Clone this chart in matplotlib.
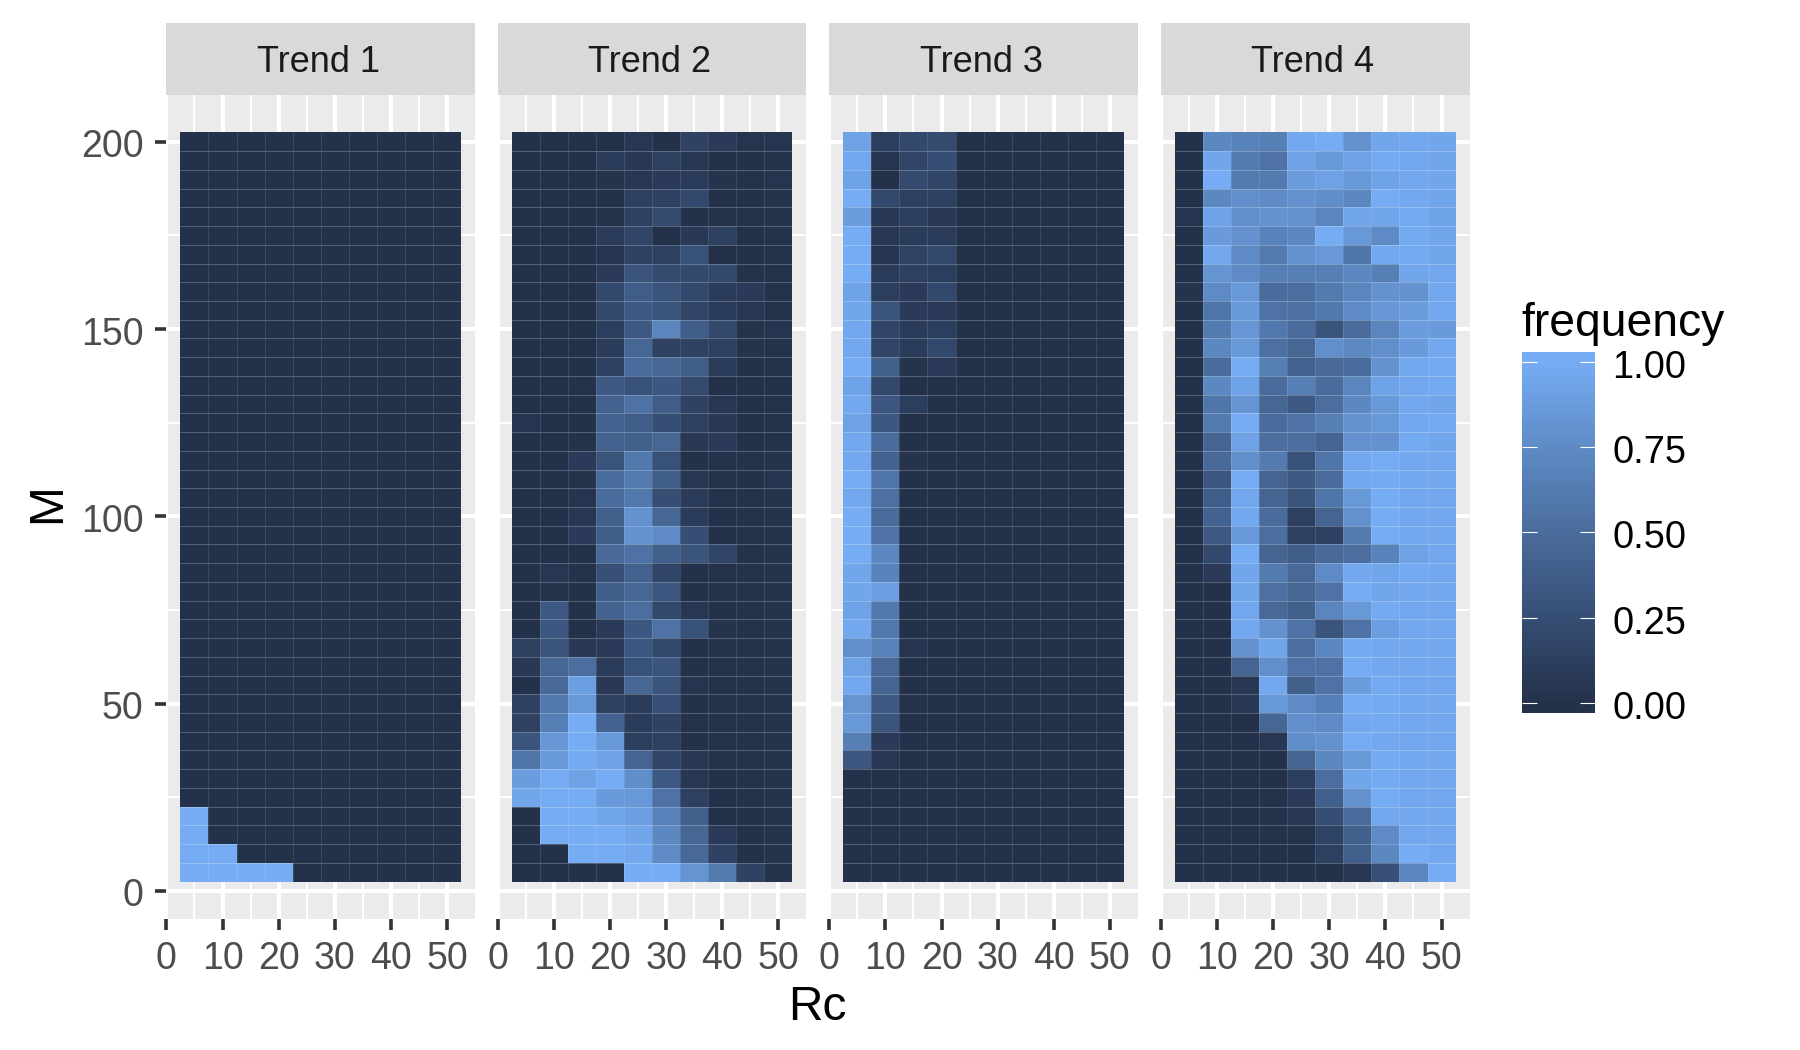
import numpy as np
import matplotlib
matplotlib.use('Agg')
import matplotlib.pyplot as plt
from matplotlib.colors import LinearSegmentedColormap, Normalize
from matplotlib.transforms import ScaledTranslation

plt.rcParams['font.family'] = ['Liberation Sans', 'DejaVu Sans']

trends = ['Trend 1', 'Trend 2', 'Trend 3', 'Trend 4']
rc_values = [5, 10, 15, 20, 25, 30, 35, 40, 45, 50]
m_values = [200, 195, 190, 185, 180, 175, 170, 165, 160, 155, 150, 145, 140, 135, 130, 125, 120, 115, 110, 105,
            100, 95, 90, 85, 80, 75, 70, 65, 60, 55, 50, 45, 40, 35, 30, 25, 20, 15, 10, 5]
x_ticks = [0, 10, 20, 30, 40, 50]
y_ticks = [0, 50, 100, 150, 200]
legend_ticks = [0, 0.25, 0.5, 0.75, 1]

# rows run from M=200 down to M=5
trend1 = [
    [0, 0, 0, 0, 0, 0, 0, 0, 0, 0], [0, 0, 0, 0, 0, 0, 0, 0, 0, 0], [0, 0, 0, 0, 0, 0, 0, 0, 0, 0], [0, 0, 0, 0, 0, 0, 0, 0, 0, 0],
    [0, 0, 0, 0, 0, 0, 0, 0, 0, 0], [0, 0, 0, 0, 0, 0, 0, 0, 0, 0], [0, 0, 0, 0, 0, 0, 0, 0, 0, 0], [0, 0, 0, 0, 0, 0, 0, 0, 0, 0],
    [0, 0, 0, 0, 0, 0, 0, 0, 0, 0], [0, 0, 0, 0, 0, 0, 0, 0, 0, 0], [0, 0, 0, 0, 0, 0, 0, 0, 0, 0], [0, 0, 0, 0, 0, 0, 0, 0, 0, 0],
    [0, 0, 0, 0, 0, 0, 0, 0, 0, 0], [0, 0, 0, 0, 0, 0, 0, 0, 0, 0], [0, 0, 0, 0, 0, 0, 0, 0, 0, 0], [0, 0, 0, 0, 0, 0, 0, 0, 0, 0],
    [0, 0, 0, 0, 0, 0, 0, 0, 0, 0], [0, 0, 0, 0, 0, 0, 0, 0, 0, 0], [0, 0, 0, 0, 0, 0, 0, 0, 0, 0], [0, 0, 0, 0, 0, 0, 0, 0, 0, 0],
    [0, 0, 0, 0, 0, 0, 0, 0, 0, 0], [0, 0, 0, 0, 0, 0, 0, 0, 0, 0], [0, 0, 0, 0, 0, 0, 0, 0, 0, 0], [0, 0, 0, 0, 0, 0, 0, 0, 0, 0],
    [0, 0, 0, 0, 0, 0, 0, 0, 0, 0], [0, 0, 0, 0, 0, 0, 0, 0, 0, 0], [0, 0, 0, 0, 0, 0, 0, 0, 0, 0], [0, 0, 0, 0, 0, 0, 0, 0, 0, 0],
    [0, 0, 0, 0, 0, 0, 0, 0, 0, 0], [0, 0, 0, 0, 0, 0, 0, 0, 0, 0], [0, 0, 0, 0, 0, 0, 0, 0, 0, 0], [0, 0, 0, 0, 0, 0, 0, 0, 0, 0],
    [0, 0, 0, 0, 0, 0, 0, 0, 0, 0], [0, 0, 0, 0, 0, 0, 0, 0, 0, 0], [0, 0, 0, 0, 0, 0, 0, 0, 0, 0], [0, 0, 0, 0, 0, 0, 0, 0, 0, 0],
    [1, 0, 0, 0, 0, 0, 0, 0, 0, 0], [1, 0, 0, 0, 0, 0, 0, 0, 0, 0], [1, 1, 0, 0, 0, 0, 0, 0, 0, 0], [1, 1, 1, 1, 0, 0, 0, 0, 0, 0],
]
trend2 = [
    [0, 0, 0, 0, .05, 0, .15, .08, .03, .03],
    [0, 0, 0, .1, .07, .13, .05, 0, 0, .02],
    [0, 0, 0, .02, .05, .08, .1, .02, .01, .03],
    [0, 0, 0, 0, .13, .15, .2, 0, 0, .02],
    [0, 0, 0, .01, .13, .22, 0, .02, .01, .02],
    [0, 0, 0, .1, .18, 0, .07, .13, 0, .01],
    [0, 0, 0, .03, .15, .13, .28, 0, 0, .01],
    [0, 0, 0, .08, .3, .22, .2, .2, .01, .01],
    [0, 0, 0, .2, .38, .3, .2, .1, .08, .01],
    [0, 0, 0, .2, .35, .3, .17, .1, .05, .01],
    [0, 0, 0, .12, .35, .7, .38, .2, .02, .03],
    [0, 0, 0, .1, .45, .15, .15, .13, .02, .01],
    [0, 0, 0, .13, .5, .45, .38, .1, 0, .01],
    [0, 0, .01, .35, .28, .33, .22, 0, 0, 0],
    [0, 0, 0, .42, .55, .37, .15, .05, 0, .01],
    [.03, 0, 0, .42, .38, .25, .13, .07, 0, .01],
    [0, 0, .01, .42, .4, .45, .07, .08, 0, .01],
    [0, 0, .08, .3, .6, .28, 0, .01, .01, .02],
    [0, 0, .02, .5, .62, .38, .05, .01, 0, .03],
    [0, 0, .03, .5, .6, .25, .1, .01, .01, .02],
    [0, 0, .05, .4, .8, .45, .1, 0, .01, .02],
    [0, 0, .08, .38, .8, .75, .25, 0, .01, .02],
    [0, 0, 0, .48, .55, .4, .3, .17, .01, .02],
    [0, .05, .01, .27, .42, .17, 0, .01, .01, .02],
    [0, .02, 0, .38, .45, .32, 0, .01, .01, .02],
    [0, .35, 0, .42, .52, .2, .05, 0, .01, .02],
    [0, .33, 0, .08, .33, .55, .28, .02, .01, .02],
    [.14, .3, .07, .08, .33, .2, 0, .01, .01, .02],
    [.07, .45, .52, .1, .28, .3, 0, .01, .01, .02],
    [0, .48, .9, .07, .45, .3, .03, .01, .01, .02],
    [.15, .6, .85, .13, .1, .27, 0, .01, .01, .02],
    [.15, .65, 1, .42, .1, .15, .01, .01, .01, .02],
    [.3, .83, 1, .85, .12, .13, 0, .01, .01, .02],
    [.58, .87, .98, .92, .43, .18, .07, .01, .01, .02],
    [.88, 1, .92, 1, .77, .35, .05, 0, .01, .02],
    [.95, 1, 1, .87, .85, .55, .13, 0, .01, .02],
    [0, 1, 1, .95, .9, .67, .4, 0, 0, .02],
    [0, 1, 1, 1, .95, .72, .45, .08, 0, .02],
    [0, 0, 1, 1, .97, .75, .47, .15, 0, .02],
    [0, 0, 0, 0, 1, 1, .82, .62, .15, .02],
]
trend3 = [
    [.92, .12, .2, .22, 0, 0, 0, 0, 0, 0],
    [.97, .03, .18, .25, 0, 0, 0, 0, 0, 0],
    [.93, 0, .22, .18, 0, 0, 0, 0, 0, 0],
    [1, .2, .13, .14, 0, 0, 0, 0, 0, 0],
    [.88, .05, .12, .07, 0, 0, 0, 0, 0, 0],
    [1, .06, .1, .1, 0, 0, 0, 0, 0, 0],
    [1, .04, .16, .2, 0, 0, 0, 0, 0, 0],
    [1, .1, .13, .12, 0, 0, 0, 0, 0, 0],
    [.93, .12, .08, .2, 0, 0, 0, 0, 0, 0],
    [.95, .3, .08, .08, 0, 0, 0, 0, 0, 0],
    [.97, .17, .1, .12, 0, 0, 0, 0, 0, 0],
    [.97, .17, .1, .2, 0, 0, 0, 0, 0, 0],
    [1, .4, .02, .08, 0, 0, 0, 0, 0, 0],
    [.93, .2, 0, 0, 0, 0, 0, 0, 0, 0],
    [.97, .32, .12, 0, 0, 0, 0, 0, 0, 0],
    [.92, .33, 0, 0, 0, 0, 0, 0, 0, 0],
    [.97, .5, 0, 0, 0, 0, 0, 0, 0, 0],
    [.97, .42, .02, 0, 0, 0, 0, 0, 0, 0],
    [1, .58, 0, 0, 0, 0, 0, 0, 0, 0],
    [.97, .53, 0, 0, 0, 0, 0, 0, 0, 0],
    [1, .5, 0, 0, 0, 0, 0, 0, 0, 0],
    [1, .55, 0, 0, 0, 0, 0, 0, 0, 0],
    [1, .72, 0, 0, 0, 0, 0, 0, 0, 0],
    [.95, .68, 0, 0, 0, 0, 0, 0, 0, 0],
    [.95, .9, 0, 0, 0, 0, 0, 0, 0, 0],
    [.93, .6, 0, 0, 0, 0, 0, 0, 0, 0],
    [.97, .6, 0, 0, 0, 0, 0, 0, 0, 0],
    [.78, .68, .03, 0, 0, 0, 0, 0, 0, 0],
    [.92, .47, 0, 0, 0, 0, 0, 0, 0, 0],
    [.97, .43, 0, 0, 0, 0, 0, 0, 0, 0],
    [.82, .35, .01, 0, 0, 0, 0, 0, 0, 0],
    [.85, .3, 0, 0, 0, 0, 0, 0, 0, 0],
    [.65, .08, 0, 0, 0, 0, 0, 0, 0, 0],
    [.32, .05, 0, 0, 0, 0, 0, 0, 0, 0],
    [0, 0, 0, 0, 0, 0, 0, 0, 0, 0],
    [0, 0, 0, 0, 0, 0, 0, 0, 0, 0],
    [0, 0, 0, 0, 0, 0, 0, 0, 0, 0],
    [0, 0, 0, 0, 0, 0, 0, 0, 0, 0],
    [0, 0, 0, 0, 0, 0, 0, 0, 0, 0],
    [0, 0, 0, 0, 0, 0, 0, 0, 0, 0],
]
trend4 = [
    [0, .72, .68, .65, .97, 1, .8, .95, .97, .95],
    [0, .95, .62, .55, .92, .85, .92, .98, .97, .95],
    [0, 1, .62, .62, .88, .92, .85, .93, .97, .95],
    [0, .72, .78, .75, .8, .77, .72, 1, .97, .95],
    [.03, .93, .78, .8, .8, .7, .95, .95, .98, .93],
    [0, .87, .8, .68, .72, 1, .85, .75, .98, .95],
    [0, .97, .75, .62, .8, .85, .58, .97, .98, .95],
    [0, .82, .75, .65, .65, .65, .72, .65, .95, .97],
    [.02, .75, .85, .5, .52, .62, .7, .8, .8, .97],
    [0, .58, .87, .55, .53, .6, .75, .83, .88, .97],
    [0, .62, .83, .6, .5, .3, .5, .7, .88, .87],
    [0, .72, .85, .53, .45, .78, .73, .78, .87, .97],
    [0, .5, 1, .65, .42, .48, .5, .8, .97, .98],
    [0, .72, .93, .5, .65, .5, .7, .93, .97, .98],
    [0, .58, .82, .45, .35, .52, .72, .85, .97, .95],
    [0, .62, 1, .5, .55, .65, .8, .85, .97, .98],
    [0, .43, .92, .52, .52, .43, .8, .8, .98, .95],
    [0, .48, .78, .62, .28, .58, .97, 1, .97, .97],
    [0, .33, .99, .43, .35, .5, .97, .98, .97, .97],
    [0, .38, .97, .43, .3, .58, .85, 1, .97, .97],
    [0, .42, .97, .5, .13, .43, .8, 1, .97, .97],
    [0, .35, .85, .52, .13, .15, .62, 1, .97, .97],
    [0, .2, 1, .43, .38, .47, .52, .68, .92, .97],
    [0, .08, .95, .62, .47, .75, .97, .95, .98, .97],
    [0, 0, .95, .53, .45, .55, 1, .95, .97, .97],
    [0, 0, .97, .47, .4, .7, .85, .98, .97, .97],
    [0, 0, .97, .8, .55, .3, .55, .9, .97, .97],
    [0, 0, .8, .95, .52, .72, .98, .97, .97, .97],
    [0, 0, .43, .78, .55, .55, 1, .97, .97, .97],
    [0, 0, .06, .97, .4, .55, .88, .98, .97, .97],
    [0, 0, .06, .85, .75, .65, 1, .98, .97, .97],
    [0, 0, 0, .45, .78, .75, .97, .98, .97, .97],
    [0, 0, 0, .06, .77, .8, 1, .97, .97, .97],
    [0, 0, 0, 0, .43, .72, .85, .98, .97, .97],
    [0, 0, 0, 0, .12, .52, .95, .98, .97, .97],
    [0, 0, 0, .01, .08, .4, .8, 1, .97, .97],
    [0, 0, 0, .01, .05, .25, .5, .97, .97, .97],
    [0, 0, 0, .01, .01, .16, .4, .75, .97, .97],
    [0, 0, 0, 0, 0, .13, .4, .72, 1, .97],
    [0, 0, 0, 0, 0, 0, .05, .27, .7, 1],
]
panels = [trend1, trend2, trend3, trend4]

W, H = 1800, 1050
# the legend bar runs a bit past 0 and 1, so the end colours sit at those values
cmap = LinearSegmentedColormap.from_list('freq', [(0, '#24314A'), (.0265, '#24314A'), (.25, '#354C72'), (.5, '#4A6C9C'),
                                                  (.75, '#5F8DC8'), (.9735, '#76ACF4'), (1, '#76ACF4')])
norm = Normalize(-0.028, 1.028)

def px_axes(fig, left, top, right, bottom):
    return fig.add_axes([left / W, 1 - bottom / H, (right - left) / W, (bottom - top) / H])

def shift_labels(labels, fig, dx, dy):
    # dx, dy in pixels, dy down is negative
    for label in labels:
        label.set_transform(label.get_transform() + ScaledTranslation(dx / 100, dy / 100, fig.dpi_scale_trans))

fig = plt.figure(figsize=(18, 10.5), dpi=100)

rc_edges = np.array(rc_values + [55]) - 2.5
m_edges = np.array(m_values[::-1] + [205]) - 2.5
lefts = [166.4, 497.7, 829.3, 1161]

for i, name in enumerate(trends):
    ax = px_axes(fig, lefts[i], 95, lefts[i] + 308.6, 919)
    ax.set_facecolor('#EBEBEB')
    for side in ax.spines.values():
        side.set_visible(False)
    ax.set_xlim(0, 55)
    ax.set_ylim(-7.5, 212.5)
    ax.set_axisbelow(True)
    ax.set_xticks(x_ticks)
    ax.set_yticks(y_ticks)
    ax.set_xticks([5, 15, 25, 35, 45], minor=True)
    ax.set_yticks([25, 75, 125, 175], minor=True)
    ax.grid(True, which='major', color='white', lw=2.9)
    ax.grid(True, which='minor', color='white', lw=1.4)
    ax.tick_params(which='minor', length=0)
    ax.tick_params(which='major', length=8, width=2.6, color='#333333', labelcolor='#4D4D4D',
                   labelsize=27, pad=7.5)
    ax.tick_params(axis='y', which='major', pad=8.5)
    if i > 0:
        ax.tick_params(axis='y', which='major', left=False, labelleft=False)
    else:
        shift_labels(ax.get_yticklabels(), fig, 0, -1.5)

    values = np.array(panels[i])[::-1]
    ax.pcolormesh(rc_edges, m_edges, values, cmap=cmap, norm=norm, linewidth=0, rasterized=True, zorder=2)
    # thin seams between the tiles
    ax.hlines(m_edges[1:-1], rc_edges[0], rc_edges[-1], color='white', alpha=.28, lw=.6, zorder=3)
    ax.vlines(rc_edges[1:-1], m_edges[0], m_edges[-1], color='white', alpha=.13, lw=.6, zorder=3)

    strip = px_axes(fig, lefts[i], 23, lefts[i] + 308.6, 95)
    strip.set_facecolor('#D9D9D9')
    strip.set_xticks([])
    strip.set_yticks([])
    for side in strip.spines.values():
        side.set_visible(False)
    strip.text(.492, .5, name, transform=strip.transAxes, ha='center', va='center_baseline', fontsize=26, color='#1A1A1A')

fig.text(817 / W, 1 - 1007 / H, 'Rc', ha='center', va='center', fontsize=34.5, color='black')
fig.text(48 / W, 1 - 503 / H, 'M', ha='center', va='center', rotation=90, fontsize=34.5, color='black')

cax = px_axes(fig, 1522, 352, 1595, 712.7)
sm = plt.cm.ScalarMappable(norm=norm, cmap=cmap)
cb = fig.colorbar(sm, cax=cax)
cb.outline.set_visible(False)
cb.set_ticks(legend_ticks)
cb.set_ticklabels(['0.00', '0.25', '0.50', '0.75', '1.00'])
cb.minorticks_off()
cax.tick_params(axis='y', direction='in', left=True, right=True, length=10.8, width=.8, color='white',
                labelsize=27.3, labelcolor='black', pad=12.5)
shift_labels(cax.get_yticklabels(), fig, 0, -2)
fig.text(1521 / W, 1 - 336 / H, 'frequency', ha='left', va='baseline', fontsize=33.3, color='black')

fig.savefig('out.png', dpi=100)
